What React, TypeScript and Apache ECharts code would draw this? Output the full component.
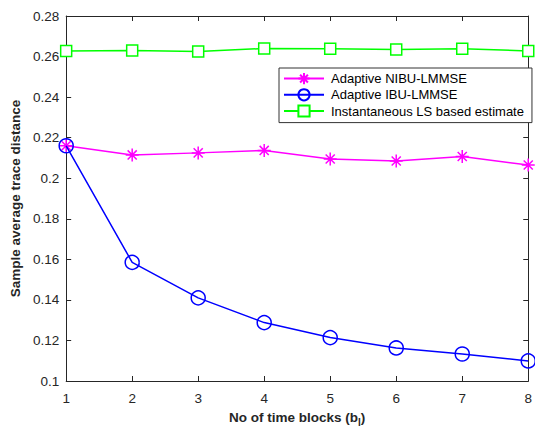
import React, { useEffect, useRef } from "react";
import * as echarts from "echarts";

const blocks = [1, 2, 3, 4, 5, 6, 7, 8];
const nibu = [0.216, 0.2115, 0.2125, 0.2137, 0.2095, 0.2085, 0.2107, 0.2065];
const ibu = [0.216, 0.1585, 0.141, 0.1288, 0.1214, 0.1163, 0.1133, 0.1099];
const ls = [0.2628, 0.263, 0.2625, 0.264, 0.2639, 0.2635, 0.2638, 0.2628];
const yTicks = [0.1, 0.12, 0.14, 0.16, 0.18, 0.2, 0.22, 0.24, 0.26, 0.28];

const FONT = "Liberation Sans, Arial, sans-serif";
const ASTERISK =
  "path://M0,-10L0,10M-10,0L10,0M-7,-7L7,7M-7,7L7,-7";

export default function App() {
  const ref = useRef<HTMLDivElement>(null);
  useEffect(() => {
    document.body.style.margin = "0";
    const chart = echarts.init(ref.current!, null, { renderer: "svg", width: 535, height: 432 });
    const pair = (arr: number[]) => blocks.map((b, i) => [b, arr[i]]);
    const axisCommon = {
      axisLine: { show: true, lineStyle: { color: "#262626", width: 1 } },
      axisTick: { show: true, inside: true, length: 5, lineStyle: { color: "#262626" } },
      splitLine: { show: false },
    };
    chart.setOption({
      animation: false,
      backgroundColor: "#fff",
      grid: { left: 63, right: 3, top: 16, bottom: 48, containLabel: false },
      legend: {
        orient: "vertical",
        left: 279,
        top: 68,
        width: 248,
        itemWidth: 40,
        itemHeight: 14,
        itemGap: 3,
        padding: [4, 8, 5, 4],
        borderColor: "#333",
        borderWidth: 1,
        backgroundColor: "#fff",
        textStyle: { fontFamily: FONT, fontSize: 13, color: "#000", padding: [0, 0, 0, 2] },
        data: ["Adaptive NIBU-LMMSE", "Adaptive IBU-LMMSE", "Instantaneous LS based estimate"],
      },
      xAxis: [
        {
          type: "value",
          min: 1,
          max: 8,
          interval: 1,
          ...axisCommon,
          axisLabel: { fontFamily: FONT, fontSize: 13.5, color: "#262626", margin: 10 },
          name: "{a|No of time blocks (b}{s|l}{a|)}",
          nameLocation: "middle",
          nameGap: 27,
          nameTextStyle: {
            rich: {
              a: { fontFamily: FONT, fontSize: 13.5, fontWeight: "bold", color: "#262626" },
              s: { fontFamily: FONT, fontSize: 10, fontWeight: "bold", color: "#262626", padding: [9, 0, 0, 0] },
            },
          },
        },
        {
          type: "value",
          position: "top",
          min: 1,
          max: 8,
          interval: 1,
          ...axisCommon,
          axisLabel: { show: false },
        },
      ],
      yAxis: [
        {
          type: "value",
          min: 0.1,
          max: 0.28,
          interval: 0.02,
          ...axisCommon,
          axisLabel: {
            fontFamily: FONT,
            fontSize: 13.5,
            color: "#262626",
            margin: 7,
            formatter: (v: number) => {
              const t = yTicks.find((y) => Math.abs(y - v) < 1e-9);
              return t === undefined ? "" : String(Number(t.toFixed(2)));
            },
          },
          name: "Sample average trace distance",
          nameLocation: "middle",
          nameGap: 39,
          nameTextStyle: { fontFamily: FONT, fontSize: 13.5, fontWeight: "bold", color: "#262626" },
        },
        {
          type: "value",
          position: "right",
          min: 0.1,
          max: 0.28,
          interval: 0.02,
          ...axisCommon,
          axisLabel: { show: false },
        },
      ],
      series: [
        {
          name: "Instantaneous LS based estimate",
          type: "line",
          data: pair(ls),
          symbol: "rect",
          symbolSize: 11,
          lineStyle: { color: "#00ff00", width: 1.5 },
          itemStyle: { color: "#fff", borderColor: "#00ff00", borderWidth: 1.5 },
          z: 3,
        },
        {
          name: "Adaptive NIBU-LMMSE",
          type: "line",
          data: pair(nibu),
          symbol: ASTERISK,
          symbolSize: 13,
          lineStyle: { color: "#ff00ff", width: 1.5 },
          itemStyle: { color: "#ff00ff", borderColor: "#ff00ff", borderWidth: 1.5 },
          z: 4,
        },
        {
          name: "Adaptive IBU-LMMSE",
          type: "line",
          data: pair(ibu),
          symbol: "circle",
          symbolSize: 14,
          lineStyle: { color: "#0000ff", width: 1.5 },
          itemStyle: { color: "rgba(255,255,255,0)", borderColor: "#0000ff", borderWidth: 1.5 },
          z: 5,
        },
      ],
    });
    return () => chart.dispose();
  }, []);
  return <div ref={ref} style={{ width: 535, height: 432 }} />;
}
